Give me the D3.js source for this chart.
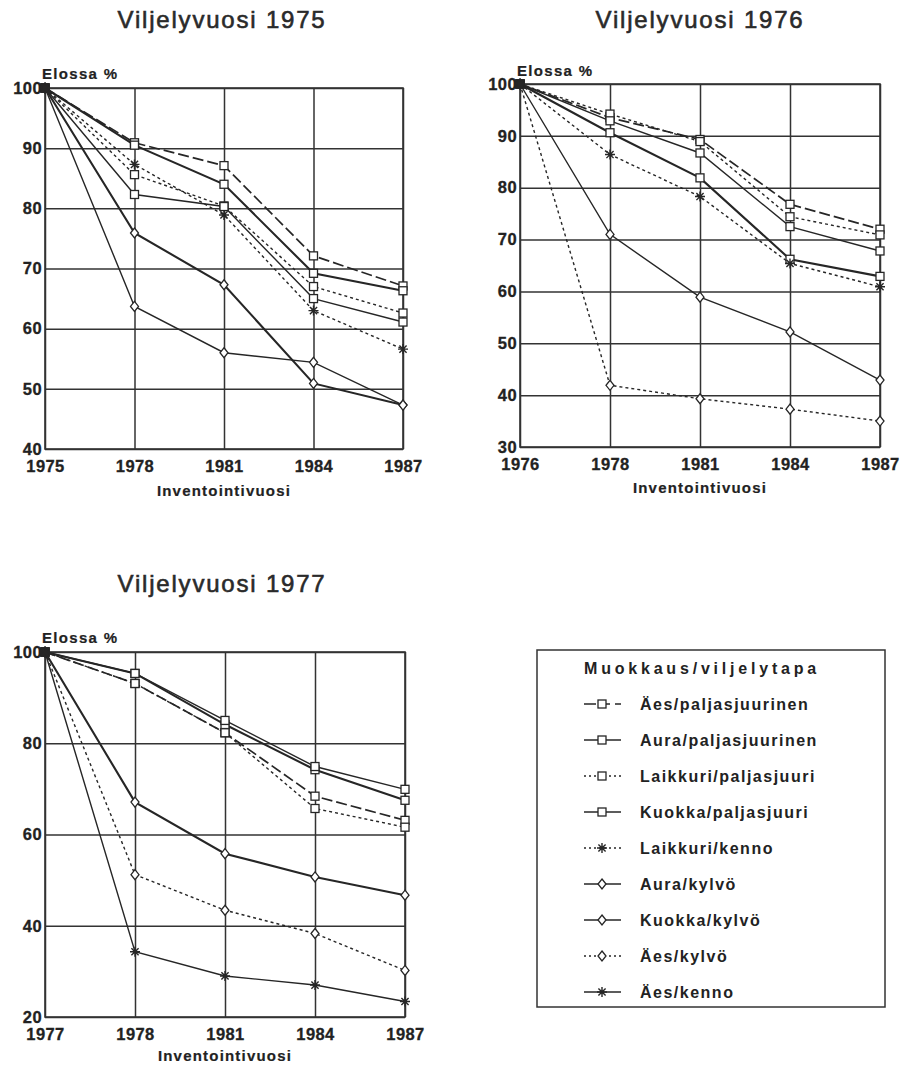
<!DOCTYPE html>
<html>
<head>
<meta charset="utf-8">
<script src="https://cdn.jsdelivr.net/npm/d3@7"></script>
<style>
  body { margin:0; background:#fff; }
  svg { display:block; font-family:"Liberation Sans", Arial, sans-serif; }
</style>
</head>
<body>
<div id="chart"></div>
<script>
// series in legend order
const seriesNames = [
    "Äes/paljasjuurinen",
    "Aura/paljasjuurinen",
    "Laikkuri/paljasjuuri",
    "Kuokka/paljasjuuri",
    "Laikkuri/kenno",
    "Aura/kylvö",
    "Kuokka/kylvö",
    "Äes/kylvö",
    "Äes/kenno"
];

const titles = ["Viljelyvuosi 1975", "Viljelyvuosi 1976", "Viljelyvuosi 1977"];
const yLabel = "Elossa %";
const xLabel = "Inventointivuosi";
const legendTitle = "Muokkaus/viljelytapa";

const years1975 = ["1975", "1978", "1981", "1984", "1987"];
const years1976 = ["1976", "1978", "1981", "1984", "1987"];
const years1977 = ["1977", "1978", "1981", "1984", "1987"];

const yTicks1975 = [40, 50, 60, 70, 80, 90, 100];
const yTicks1976 = [30, 40, 50, 60, 70, 80, 90, 100];
const yTicks1977 = [20, 40, 60, 80, 100];

// one row per series (legend order), null = not in that chart
const values1975 = [
    [100, 90.9, 87.1, 72.1, 67.1],
    [100, 90.5, 84.0, 69.2, 66.3],
    [100, 85.6, 80.4, 67.0, 62.6],
    [100, 82.3, 80.3, 65.0, 61.1],
    [100, 87.3, 78.9, 63.0, 56.6],
    [100, 75.9, 67.3, 50.9, 47.3],
    [100, 63.7, 56.0, 54.4, 47.3],
    null,
    null
];

const values1976 = [
    [100, 93.5, 89.3, 76.8, 72.0],
    [100, 90.6, 81.9, 66.2, 62.9],
    [100, 94.2, 88.9, 74.4, 70.9],
    [100, 92.9, 86.7, 72.5, 67.8],
    [100, 86.4, 78.3, 65.4, 60.9],
    null,
    [100, 71.0, 58.9, 52.2, 42.9],
    [100, 41.9, 39.3, 37.3, 35.0],
    null
];

const values1977 = [
    [100, 93.1, 82.3, 68.4, 63.1],
    [100, 95.3, 84.1, 74.2, 67.5],
    [100, 93.1, 82.3, 65.7, 61.6],
    [100, 95.3, 85.0, 74.9, 69.9],
    null,
    [100, 67.1, 55.8, 50.7, 46.7],
    null,
    [100, 51.2, 43.4, 38.3, 30.2],
    [100, 34.3, 29.0, 27.0, 23.4]
];

const ink = "#262626";

const seriesStyle = [
    {dash:"11,4", width:1.7, marker:"square"},
    {dash:null,   width:2.1, marker:"square"},
    {dash:"3,3",  width:1.4, marker:"square"},
    {dash:null,   width:1.4, marker:"square"},
    {dash:"3,3",  width:1.4, marker:"star"},
    {dash:null,   width:2.1, marker:"diamond"},
    {dash:null,   width:1.4, marker:"diamond"},
    {dash:"3,3",  width:1.4, marker:"diamond"},
    {dash:null,   width:1.4, marker:"star"}
];

const panels = [
    {title:titles[0], years:years1975, ticks:yTicks1975, values:values1975,
     left:45, top:88, right:403, bottom:449, titleX:222, titleY:28, yLabY:79, xLabY:496},
    {title:titles[1], years:years1976, ticks:yTicks1976, values:values1976,
     left:520, top:84, right:880, bottom:447, titleX:700, titleY:28, yLabY:76, xLabY:493},
    {title:titles[2], years:years1977, ticks:yTicks1977, values:values1977,
     left:45, top:652, right:405, bottom:1017, titleX:222, titleY:592, yLabY:643, xLabY:1061}
];

const svg = d3.select("#chart")
    .append("svg")
    .attr("width", 910)
    .attr("height", 1066);

svg.append("rect")
    .attr("width", 910)
    .attr("height", 1066)
    .attr("fill", "#fff");

function drawMarker(g, type, cx, cy, filled){
    const fill = filled ? ink : "#fff";
    if(type == "square"){
        g.append("rect")
            .attr("x", cx - 4)
            .attr("y", cy - 4)
            .attr("width", 8)
            .attr("height", 8)
            .attr("fill", fill)
            .attr("stroke", ink)
            .attr("stroke-width", 1.3);
    } else if(type == "diamond"){
        g.append("path")
            .attr("d", `M${cx},${cy-5}L${cx+4},${cy}L${cx},${cy+5}L${cx-4},${cy}Z`)
            .attr("fill", fill)
            .attr("stroke", ink)
            .attr("stroke-width", 1.3);
    } else {
        const r = 5;
        const d = 3.6;
        g.append("path")
            .attr("d", `M${cx},${cy-r}L${cx},${cy+r}M${cx-r},${cy}L${cx+r},${cy}` +
                `M${cx-d},${cy-d}L${cx+d},${cy+d}M${cx-d},${cy+d}L${cx+d},${cy-d}`)
            .attr("fill", "none")
            .attr("stroke", ink)
            .attr("stroke-width", 1.4);
    }
}

panels.forEach(p => {

    const x = d3.scalePoint()
        .domain(p.years)
        .range([p.left, p.right]);

    const y = d3.scaleLinear()
        .domain([p.ticks[0], p.ticks[p.ticks.length - 1]])
        .range([p.bottom, p.top]);

    const w = p.right - p.left;
    const h = p.bottom - p.top;

    // title
    svg.append("text")
        .attr("x", p.titleX)
        .attr("y", p.titleY)
        .attr("text-anchor", "middle")
        .attr("font-size", 24)
        .attr("letter-spacing", 1.8)
        .attr("fill", "#2a2a2a")
        .attr("stroke", "#2a2a2a")
        .attr("stroke-width", 0.6)
        .text(p.title);

    // grid + tick labels
    const yAxis = svg.append("g")
        .attr("transform", `translate(${p.left},0)`)
        .call(d3.axisLeft(y).tickValues(p.ticks).tickSize(-w).tickPadding(3));

    const xAxis = svg.append("g")
        .attr("transform", `translate(0,${p.bottom})`)
        .call(d3.axisBottom(x).tickSize(-h).tickPadding(11));

    [yAxis, xAxis].forEach(a => {
        a.select(".domain").remove();
        a.selectAll("line")
            .attr("stroke", "#333")
            .attr("stroke-width", 1.5);
        a.selectAll("text")
            .attr("font-family", "Liberation Sans, Arial, sans-serif")
            .attr("font-size", 16.5)
            .attr("font-weight", "bold")
            .attr("letter-spacing", 0.4)
            .attr("fill", "#222")
            .attr("stroke", "#222")
            .attr("stroke-width", 0.3);
    });

    svg.append("rect")
        .attr("x", p.left)
        .attr("y", p.top)
        .attr("width", w)
        .attr("height", h)
        .attr("fill", "none")
        .attr("stroke", "#333")
        .attr("stroke-width", 1.6);

    svg.append("text")
        .attr("x", p.left - 3)
        .attr("y", p.yLabY)
        .attr("font-size", 15)
        .attr("font-weight", "bold")
        .attr("letter-spacing", 1.3)
        .attr("fill", "#222")
        .attr("stroke", "#222")
        .attr("stroke-width", 0.2)
        .text(yLabel);

    svg.append("text")
        .attr("x", (p.left + p.right) / 2)
        .attr("y", p.xLabY)
        .attr("text-anchor", "middle")
        .attr("font-size", 15)
        .attr("font-weight", "bold")
        .attr("letter-spacing", 1.2)
        .attr("fill", "#222")
        .attr("stroke", "#222")
        .attr("stroke-width", 0.2)
        .text(xLabel);

    const line = d3.line()
        .x((d, i) => x(p.years[i]))
        .y(d => y(d));

    p.values.forEach((vals, s) => {
        if(!vals) return;
        const st = seriesStyle[s];
        svg.append("path")
            .datum(vals)
            .attr("d", line)
            .attr("fill", "none")
            .attr("stroke", ink)
            .attr("stroke-width", st.width)
            .attr("stroke-dasharray", st.dash);
    });

    p.values.forEach((vals, s) => {
        if(!vals) return;
        const st = seriesStyle[s];
        const g = svg.append("g");
        vals.forEach((v, i) => {
            drawMarker(g, st.marker, x(p.years[i]), y(v), i == 0);
        });
    });
});

// legend
const lg = svg.append("g");

lg.append("rect")
    .attr("x", 537)
    .attr("y", 650)
    .attr("width", 348)
    .attr("height", 357)
    .attr("fill", "none")
    .attr("stroke", "#333")
    .attr("stroke-width", 1.5);

lg.append("text")
    .attr("x", 584)
    .attr("y", 674)
    .attr("font-size", 16)
    .attr("font-weight", "bold")
    .attr("letter-spacing", 3.8)
    .attr("fill", "#222")
    .text(legendTitle);

seriesNames.forEach((name, i) => {
    const st = seriesStyle[i];
    const cy = 704 + i * 36;
    lg.append("line")
        .attr("x1", 584)
        .attr("x2", 621)
        .attr("y1", cy)
        .attr("y2", cy)
        .attr("stroke", ink)
        .attr("stroke-width", 1.4)
        .attr("stroke-dasharray", st.dash == "11,4" ? "12,5,9,5" : (st.dash ? "2,3" : null));
    drawMarker(lg, st.marker, 602, cy, false);
    lg.append("text")
        .attr("x", 640)
        .attr("y", cy + 6)
        .attr("font-size", 16)
        .attr("font-weight", "bold")
        .attr("letter-spacing", 1.5)
        .attr("fill", "#222")
        .text(name);
});
</script>
</body>
</html>
